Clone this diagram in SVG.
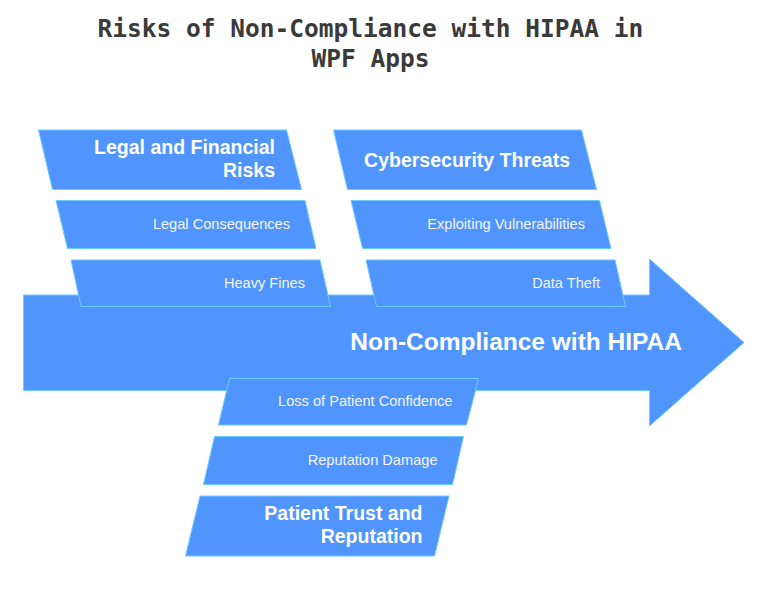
<svg xmlns="http://www.w3.org/2000/svg" width="768" height="604" viewBox="0 0 768 604">
<style>
.bg{fill:#ffffff}
.shape{fill:#5094fd;stroke:#6ccbff;stroke-width:1}
.title{font-family:"DejaVu Sans Mono","Liberation Mono",monospace;font-weight:bold;font-size:24.5px;fill:#3a3a3a;text-anchor:middle}
.cat{font-family:"Liberation Sans",Arial,sans-serif;font-weight:bold;font-size:19.5px;fill:#ffffff;text-anchor:end}
.sub{font-family:"Liberation Sans",Arial,sans-serif;font-size:14.6px;fill:#f4f4f4;text-anchor:end}
.main{font-family:"Liberation Sans",Arial,sans-serif;font-weight:bold;font-size:24.5px;fill:#ffffff;text-anchor:end}
</style>
<rect class="bg" x="0" y="0" width="768" height="604"/>
<g id="title">
<text class="title" x="370.5" y="37">Risks of Non-Compliance with HIPAA in</text>
<text class="title" x="370.5" y="67">WPF Apps</text>
</g>
<g id="connectors">
<g id="spine">
<polygon class="shape" points="23.5,295 649.5,295 649.5,259 744,342.5 649.5,426 649.5,390.5 23.5,390.5"/>
<text class="main" x="682" y="350">Non-Compliance with HIPAA</text>
</g>
</g>
<g id="legal-financial">
<polygon class="shape" points="38.5,130 286.5,130 301.5,189.5 52.5,189.5"/>
<text class="cat" x="275" y="154.3">Legal and Financial</text>
<text class="cat" x="275" y="177.3">Risks</text>
</g>
<g id="legal-consequences">
<polygon class="shape" points="56,200.5 305,200.5 316,248.5 67.5,248.5"/>
<text class="sub" x="290" y="229.3">Legal Consequences</text>
</g>
<g id="heavy-fines">
<polygon class="shape" points="71,260 320,260 330.5,306.5 81,306.5"/>
<text class="sub" x="305" y="288">Heavy Fines</text>
</g>
<g id="cybersecurity">
<polygon class="shape" points="333.5,130 581.5,130 596.5,189.5 347.5,189.5"/>
<text class="cat" x="570" y="166.7">Cybersecurity Threats</text>
</g>
<g id="exploiting">
<polygon class="shape" points="351,200.5 599.5,200.5 611,248.5 362.5,248.5"/>
<text class="sub" x="585" y="229.3">Exploiting Vulnerabilities</text>
</g>
<g id="data-theft">
<polygon class="shape" points="366,260 615,260 625.5,306.5 376.5,306.5"/>
<text class="sub" x="600" y="288">Data Theft</text>
</g>
<g id="loss-confidence">
<polygon class="shape" points="229.5,378.5 478.5,378.5 466.5,425 218.5,425"/>
<text class="sub" x="452.5" y="406">Loss of Patient Confidence</text>
</g>
<g id="reputation-damage">
<polygon class="shape" points="214.5,436.5 463.5,436.5 452.5,484.5 203.5,484.5"/>
<text class="sub" x="437.5" y="464.5">Reputation Damage</text>
</g>
<g id="patient-trust">
<polygon class="shape" points="200,496 449,496 434.5,556 185.5,556"/>
<text class="cat" x="422.5" y="519.5">Patient Trust and</text>
<text class="cat" x="422.5" y="543">Reputation</text>
</g>
</svg>
